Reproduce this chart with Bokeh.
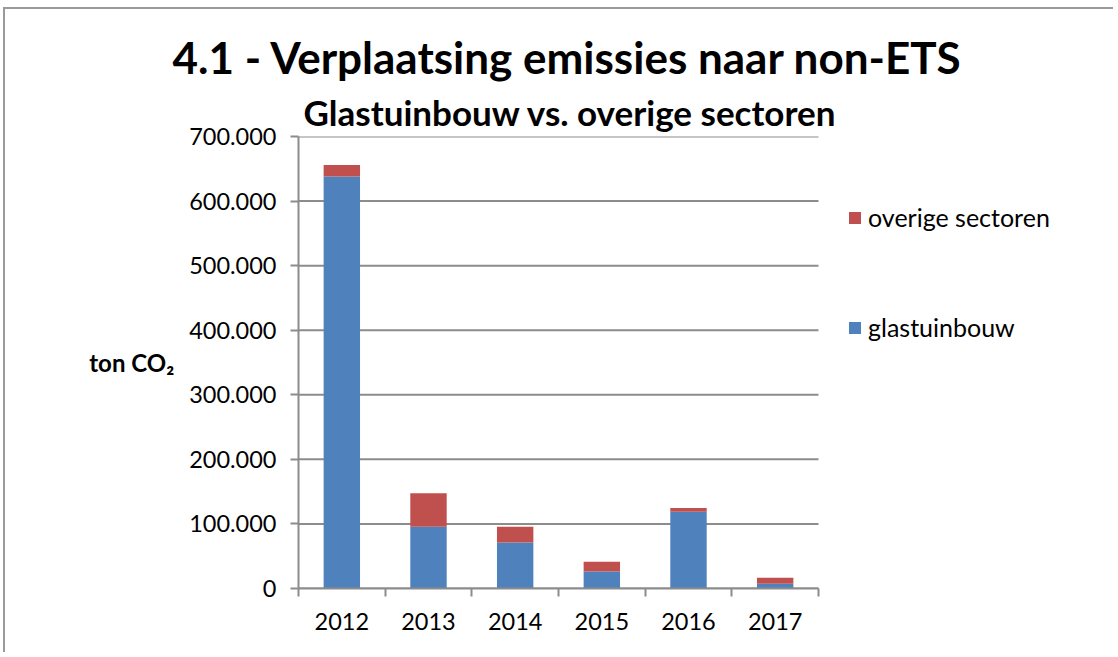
from bokeh.plotting import figure
from bokeh.models import (Range1d, FixedTicker, CustomJSTickFormatter, Title, Legend, LegendItem,
                          ColumnDataSource)
from bokeh.embed import file_html
from bokeh.resources import INLINE
import numpy as np

years = ["2012", "2013", "2014", "2015", "2016", "2017"]
glastuinbouw = [638000, 95600, 71300, 26300, 118800, 7200]
overige_sectoren = [18000, 52100, 24300, 15000, 5700, 9300]
y_ticks = [0, 100000, 200000, 300000, 400000, 500000, 600000, 700000]

BLUE = "#4F81BD"
RED = "#C0504D"
GRID = "#8C8C8C"
FONT = "Lato"

n = len(years)
x = np.arange(n) + 0.5
src = ColumnDataSource(dict(x=x, glas=glastuinbouw, overige=overige_sectoren))

W, H = 1110, 645
LEFT, TOP, BOTTOM = 293, 127, 66
PLOT_W = 520  # pixel width of the category area
x_end = n * (W - LEFT) / PLOT_W

p = figure(width=W, height=H, output_backend="svg", toolbar_location=None,
           x_range=Range1d(0, x_end), y_range=Range1d(0, 700000),
           min_border_left=LEFT, min_border_right=0, min_border_top=TOP, min_border_bottom=BOTTOM)
p.styles = {"border-top": "2px solid #9a9a9a", "border-left": "2px solid #9a9a9a",
            "margin-top": "7px", "margin-left": "3px"}
p.outline_line_color = None
p.background_fill_color = "white"

# horizontal gridlines limited to the category area
p.segment(x0=[0] * len(y_ticks), x1=[n] * len(y_ticks), y0=y_ticks, y1=y_ticks,
          line_color=GRID, line_width=2)

r = p.vbar_stack(["glas", "overige"], x="x", width=0.42, color=[BLUE, RED], source=src,
                 line_color=None)

# titles
sub = Title(text="Glastuinbouw vs. overige sectoren", align="left", text_font=FONT,
            text_font_size="35px", text_font_style="bold", text_color="black", offset=5,
            standoff=8)
p.add_layout(sub, "above")
main = Title(text="4.1 - Verplaatsing emissies naar non-ETS", align="left", text_font=FONT,
             text_font_size="44px", text_font_style="bold", text_color="black", offset=-126,
             standoff=4)
p.add_layout(main, "above")

# y axis
p.yaxis.ticker = FixedTicker(ticks=y_ticks)
p.yaxis.formatter = CustomJSTickFormatter(
    code="return tick.toFixed(0).replace(/\\B(?=(\\d{3})+(?!\\d))/g, '.');")
p.yaxis.major_label_text_font = FONT
p.yaxis.major_label_text_font_size = "23.5px"
p.yaxis.major_label_text_color = "black"
p.yaxis.axis_line_color = GRID
p.yaxis.axis_line_width = 2
p.yaxis.major_tick_line_color = GRID
p.yaxis.major_tick_line_width = 2
p.yaxis.major_tick_out = 8
p.yaxis.major_tick_in = 0
p.yaxis.minor_tick_line_color = None
p.yaxis.major_label_standoff = 14
p.yaxis.axis_label = "ton CO₂"
p.yaxis.axis_label_orientation = "horizontal"
p.yaxis.axis_label_text_font = FONT
p.yaxis.axis_label_text_font_size = "24px"
p.yaxis.axis_label_text_font_style = "bold"
p.yaxis.axis_label_text_color = "black"
p.yaxis.axis_label_standoff = 12

# x axis
p.xaxis.ticker = FixedTicker(ticks=list(x), minor_ticks=list(range(n + 1)))
p.xaxis.major_label_overrides = {float(xi): y for xi, y in zip(x, years)}
p.xaxis.bounds = (0, n)
p.xaxis.major_label_text_font = FONT
p.xaxis.major_label_text_font_size = "23.5px"
p.xaxis.major_label_text_color = "black"
p.xaxis.axis_line_color = GRID
p.xaxis.axis_line_width = 2
p.xaxis.major_tick_line_color = None
p.xaxis.minor_tick_line_color = GRID
p.xaxis.minor_tick_line_width = 2
p.xaxis.minor_tick_out = 8
p.xaxis.minor_tick_in = 0
p.xaxis.major_label_standoff = 16

p.xgrid.grid_line_color = None
p.ygrid.grid_line_color = None

legend = Legend(items=[LegendItem(label="overige sectoren", renderers=[r[1]]),
                       LegendItem(label="glastuinbouw", renderers=[r[0]])],
                location=(549, 246), orientation="vertical",
                label_text_font=FONT, label_text_font_size="25px", label_text_color="black",
                glyph_width=15, glyph_height=15, label_height=30, spacing=80,
                padding=10, margin=0, border_line_color=None, background_fill_alpha=0,
                label_standoff=6)
p.add_layout(legend, "center")

open("out.html", "w").write(file_html(p, INLINE))
